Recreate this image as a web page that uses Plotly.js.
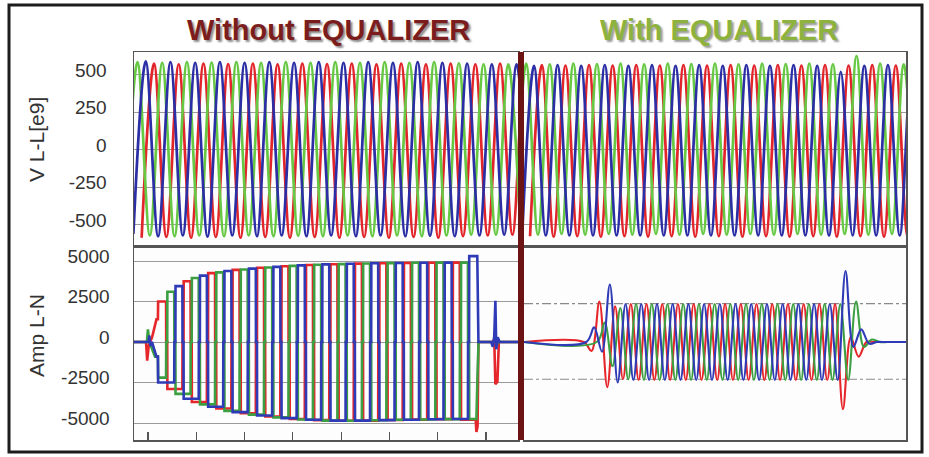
<!DOCTYPE html>
<html><head><meta charset="utf-8">
<script src="https://cdn.plot.ly/plotly-3.0.1.min.js"></script>
<style>html,body{margin:0;padding:0;background:#fff;}#chart{width:929px;height:457px;}</style>
</head><body><div id="chart"></div>
<script>
// ================= DATA =================
const panelTitles = ["Without EQUALIZER", "With EQUALIZER"];
const yTitles = ["V L-L[e9]", "Amp L-N"];
const voltTicks = [-500, -250, 0, 250, 500];
const voltTickText = ["-500", "-250", "0", "250", "500"];
const ampTicks = [-5000, -2500, 0, 2500, 5000];
const ampTickText = ["-5000", "-2500", "0", "2500", "5000"];
const timeWindowMs = [0, 265];

// ---- Voltage without equalizer: successive extremes (V), one per half-cycle ----
const vLeftHalfCycleMs = 8.53;
const vLeftFirstExtremeMs = {green: -6.13, blue: -0.43, red: 5.27};
const vLeftGreen = [-575, 585, -570, 580, -575, 585, -570, 582, -575, 585, -570, 580, -575, 585, -572, 580, -575, 585, -570, 580, -575, 585, -570, 580, -575, 585, -570, 578, -565, 570, -565, 570, -565];
const vLeftBlue  = [-560, 590, -575, 585, -570, 580, -578, 585, -570, 580, -575, 585, -570, 580, -575, 585, -570, 580, -575, 585, -570, 580, -575, 585, -572, 580, -575, 575, -570, 570, -565, 570, -565];
const vLeftRed   = [-585, 575, -580, 570, -585, 575, -580, 572, -585, 575, -580, 570, -585, 575, -580, 572, -585, 575, -580, 570, -585, 575, -580, 570, -585, 575, -575, 570, -570, 575, -565, 570, -565];

// ---- Voltage with equalizer ----
const vRightHalfCycleMs = 8.185;
const vRightFirstExtremeMs = {green: -6.69, blue: -1.25, red: 4.2};
const vRightGreen = [-560, 575, -565, 570, -560, 575, -565, 572, -560, 575, -565, 570, -560, 575, -565, 572, -560, 575, -565, 570, -560, 575, -565, 572, -560, 575, -565, 570, -560, 625, -565, 575, -560, 570, -565];
const vRightBlue  = [-565, 560, -570, 565, -570, 560, -570, 565, -570, 560, -570, 565, -570, 560, -570, 565, -570, 560, -570, 565, -570, 560, -570, 565, -570, 560, -570, 520, -570, 560, -570, 565, -570, 560, -570];
const vRightRed   = [-575, 565, -578, 562, -575, 565, -578, 562, -575, 565, -578, 562, -575, 565, -578, 562, -575, 565, -578, 562, -575, 565, -578, 562, -575, 565, -578, 562, -575, 565, -578, 562, -575, 565, -578];

// ---- Current without equalizer ----
// a commutation every iLeftStepMs; the positive phase goes red -> green -> blue in turn.
// Each array: the successive flat levels (A) of that phase, in time order.
const iLeftStartMs = 16.5;
const iLeftStepMs = 5.63;
const iLeftDwellMs = 0.8;
const iLeftSlot = {red: 0, green: 1, blue: 2};
const iLeftStopMs = {red: 235.8, green: 236.3, blue: 236.9};
const iLeftRed   = [2500, -2900, 3750, -3700, 4250, -4100, 4450, -4400, 4580, -4600, 4680, -4750, 4750, -4820, 4800, -4860, 4840, -4850, 4860, -4810, 4880, -4790, 4890, -4760, 4900, -4800];
const iLeftGreen = [-2200, 3100, -3200, 3950, -3850, 4300, -4250, 4480, -4480, 4600, -4650, 4700, -4780, 4770, -4850, 4810, -4860, 4850, -4830, 4870, -4800, 4890, -4780, 4900, -4760, 4900, -4750];
const iLeftBlue  = [-2500, 3450, -3500, 4100, -4000, 4380, -4330, 4530, -4540, 4640, -4700, 4730, -4800, 4790, -4850, 4830, -4850, 4860, -4820, 4880, -4800, 4890, -4770, 4900, -4750, 5300];
// events before start / after stop: [time ms, A]
const iLeftRedHead   = [[0, 0], [8.3, 0], [9.1, -1150], [10.2, -200], [12.5, 300], [15.5, 1400]];
const iLeftGreenHead = [[0, 0], [8.9, 0], [9.6, 780], [10.6, 0], [14.5, -900]];
const iLeftBlueHead  = [[0, 0], [10, 0], [10.6, 400], [11.4, -250], [12.4, 0], [15.5, -900]];
const iLeftRedTail   = [[236.3, -5550], [237.1, -5200], [237.7, 0], [247.5, 0], [248.6, 150], [249.4, -2600], [250.8, -2450], [251.8, 0], [265, 0]];
const iLeftGreenTail = [[237.0, -2200], [237.8, 0], [248, 0], [249.2, 250], [250.4, -200], [251.5, 0], [265, 0]];
const iLeftBlueTail  = [[237.7, 0], [246.5, 0], [247.6, -300], [248.6, 350], [249.4, 2540], [250.0, -450], [251.0, 300], [252.3, 0], [265, 0]];

// ---- Current with equalizer: successive extremes (A), one per half-cycle ----
const iRightHalfCycleMs = 5.45;
const iRightFirstExtremeMs = {red: 41.4, green: 50.5, blue: 43.2};
const iRightRed   = [0, -550, 2500, -2790, 2200, -2300, 2350, -2350, 2350, -2350, 2350, -2350, 2350, -2350, 2350, -2350, 2350, -2350, 2350, -2350, 2350, -2350, 2350, -2350, 2350, -2350, 2350, -2350, 2350, -2350, 2350, -2350, 2350, -4150, 300, -900, 0, 0, 0, 0, 0, 0];
const iRightGreen = [0, 1200, -1500, 2100, -2300, 2350, -2350, 2350, -2350, 2350, -2350, 2350, -2350, 2350, -2350, 2350, -2350, 2350, -2350, 2350, -2350, 2350, -2350, 2350, -2350, 2350, -2350, 2350, -2350, 2350, -2350, 2350, -2350, 2500, -300, 150, 0, 0, 0, 0];
const iRightBlue  = [0, 900, -600, 3550, -2500, 2350, -2350, 2350, -2350, 2350, -2350, 2350, -2350, 2350, -2350, 2350, -2350, 2350, -2350, 2350, -2350, 2350, -2350, 2350, -2350, 2350, -2350, 2350, -2350, 2350, -2350, 2350, -2350, 4380, -300, 780, -100, 0, 0, 0, 0, 0];
const iRightLimits = [2370, -2300];

// ================= STYLE =================
const W = 929, H = 457;
const COL = {red: '#e1252b', green: '#66c843', blue: '#2b2ea4'};
const COLI = {red: '#e5262b', green: '#3c9f42', blue: '#2f3bb6'};
const px = v => v / W, py = v => 1 - v / H;

function extremaTrace(vals, t0, dt, color, xa, ya, width, lead) {
  const x = vals.map((_, i) => t0 + i * dt);
  const y = vals.slice();
  if (lead) { x.unshift(timeWindowMs[0]); y.unshift(0); }
  return {type: 'scatter', mode: 'lines', x: x, y: y, xaxis: xa, yaxis: ya,
    line: {color: color, width: width, shape: 'spline', smoothing: 1}, hoverinfo: 'skip', showlegend: false};
}

function squareTrace(levels, slot, stop, head, tail, color) {
  const x = [], y = [];
  head.forEach(p => { x.push(p[0]); y.push(p[1]); });
  x.push(iLeftStartMs); y.push(y[y.length - 1]);
  x.push(iLeftStartMs + 0.15); y.push(levels[0]);
  let li = 0;
  for (let k = 1; ; k++) {
    const tc = iLeftStartMs + k * iLeftStepMs;
    if (tc >= stop || li + 1 >= levels.length) break;
    const r = k % 3;
    if (r === slot || r === (slot + 1) % 3) {
      x.push(tc); y.push(levels[li]);
      x.push(tc + 0.1); y.push(0);
      x.push(tc + iLeftDwellMs); y.push(0);
      x.push(tc + iLeftDwellMs + 0.1); y.push(levels[li + 1]);
      li++;
    }
  }
  x.push(stop); y.push(levels[li]);
  tail.forEach(p => { x.push(p[0]); y.push(p[1]); });
  return {type: 'scatter', mode: 'lines', x: x, y: y, xaxis: 'x3', yaxis: 'y3',
    line: {color: color, width: 2.6}, hoverinfo: 'skip', showlegend: false};
}

const traces = [
  extremaTrace(vLeftRed, vLeftFirstExtremeMs.red, vLeftHalfCycleMs, COL.red, 'x', 'y', 2.7),
  extremaTrace(vLeftGreen, vLeftFirstExtremeMs.green, vLeftHalfCycleMs, COL.green, 'x', 'y', 2.7),
  extremaTrace(vLeftBlue, vLeftFirstExtremeMs.blue, vLeftHalfCycleMs, COL.blue, 'x', 'y', 2.7),
  extremaTrace(vRightRed, vRightFirstExtremeMs.red, vRightHalfCycleMs, COL.red, 'x2', 'y2', 2.7),
  extremaTrace(vRightGreen, vRightFirstExtremeMs.green, vRightHalfCycleMs, COL.green, 'x2', 'y2', 2.7),
  extremaTrace(vRightBlue, vRightFirstExtremeMs.blue, vRightHalfCycleMs, COL.blue, 'x2', 'y2', 2.7),
  squareTrace(iLeftRed, iLeftSlot.red, iLeftStopMs.red, iLeftRedHead, iLeftRedTail, COLI.red),
  squareTrace(iLeftGreen, iLeftSlot.green, iLeftStopMs.green, iLeftGreenHead, iLeftGreenTail, COLI.green),
  squareTrace(iLeftBlue, iLeftSlot.blue, iLeftStopMs.blue, iLeftBlueHead, iLeftBlueTail, COLI.blue),
  extremaTrace(iRightRed, iRightFirstExtremeMs.red, iRightHalfCycleMs, COLI.red, 'x4', 'y4', 2.1, true),
  extremaTrace(iRightGreen, iRightFirstExtremeMs.green, iRightHalfCycleMs, COLI.green, 'x4', 'y4', 2.1, true),
  extremaTrace(iRightBlue, iRightFirstExtremeMs.blue, iRightHalfCycleMs, COLI.blue, 'x4', 'y4', 2.1, true)
];

const tickFont = {family: 'Liberation Sans, Arial, sans-serif', size: 19, color: '#333'};
const xBase = {range: timeWindowMs, showgrid: false, zeroline: false, showticklabels: false, ticks: '',
  showline: true, mirror: true, linecolor: '#555', linewidth: 1.5, fixedrange: true};
const yBase = {showgrid: true, gridcolor: '#9b9b9b', gridwidth: 1, zeroline: false, showline: true, mirror: true,
  linecolor: '#555', linewidth: 1.5, ticks: '', tickfont: tickFont, ticklabelstandoff: 22, ticklabelshift: -5, fixedrange: true};

const xL = [px(134), px(518)], xR = [px(524), px(906)];
const yT = [py(246), py(52)], yB = [py(440), py(246)];

const layout = {
  width: W, height: H, margin: {l: 0, r: 0, t: 0, b: 0},
  paper_bgcolor: '#ffffff', plot_bgcolor: '#fdfdfd', showlegend: false,
  xaxis: Object.assign({}, xBase, {domain: xL, anchor: 'y'}),
  yaxis: Object.assign({}, yBase, {domain: yT, anchor: 'x', range: [-640, 653], tickvals: voltTicks, ticktext: voltTickText}),
  xaxis2: Object.assign({}, xBase, {domain: xR, anchor: 'y2'}),
  yaxis2: Object.assign({}, yBase, {domain: yT, anchor: 'x2', range: [-640, 653], tickvals: voltTicks, showticklabels: false}),
  xaxis3: Object.assign({}, xBase, {domain: xL, anchor: 'y3', ticks: 'inside', tick0: 9.66, dtick: 33.33, ticklen: 8, tickcolor: '#555', tickwidth: 1.2}),
  yaxis3: Object.assign({}, yBase, {domain: yB, anchor: 'x3', range: [-6049, 5926], tickvals: ampTicks, ticktext: ampTickText, ticklabelstandoff: 19}),
  xaxis4: Object.assign({}, xBase, {domain: xR, anchor: 'y4'}),
  yaxis4: Object.assign({}, yBase, {domain: yB, anchor: 'x4', range: [-6049, 5926], showgrid: false, showticklabels: false}),
  shapes: [
    {type: 'line', xref: 'x4', yref: 'y4', x0: timeWindowMs[0], x1: timeWindowMs[1], y0: iRightLimits[0], y1: iRightLimits[0], line: {color: '#8a8a8a', width: 1.2, dash: 'dashdot'}, layer: 'below'},
    {type: 'line', xref: 'x4', yref: 'y4', x0: timeWindowMs[0], x1: timeWindowMs[1], y0: iRightLimits[1], y1: iRightLimits[1], line: {color: '#8a8a8a', width: 1.2, dash: 'dashdot'}, layer: 'below'},
    {type: 'rect', xref: 'paper', yref: 'paper', x0: px(518), x1: px(524), y0: py(440), y1: py(52), fillcolor: '#6c1414', line: {width: 0}},
    {type: 'rect', xref: 'paper', yref: 'paper', x0: px(9), x1: px(922), y0: py(452), y1: py(5), line: {color: '#1c1c1c', width: 3}}
  ],
  annotations: [
    {text: '<b>' + panelTitles[0] + '</b>', xref: 'paper', yref: 'paper', x: px(328), y: py(30), showarrow: false, xanchor: 'center', yanchor: 'middle',
      font: {family: 'Liberation Sans, Arial, sans-serif', size: 29, color: '#7b1d1d', shadow: '2px 2px 2px rgba(0,0,0,0.45)'}},
    {text: '<b>' + panelTitles[1] + '</b>', xref: 'paper', yref: 'paper', x: px(719), y: py(30), showarrow: false, xanchor: 'center', yanchor: 'middle',
      font: {family: 'Liberation Sans, Arial, sans-serif', size: 29, color: '#8db23e', shadow: '2px 2px 2px rgba(0,0,0,0.4)'}},
    {text: yTitles[0], xref: 'paper', yref: 'paper', x: px(36), y: py(140), showarrow: false, textangle: -90, xanchor: 'center', yanchor: 'middle',
      font: {family: 'Liberation Sans, Arial, sans-serif', size: 21, color: '#333'}},
    {text: yTitles[1], xref: 'paper', yref: 'paper', x: px(36), y: py(336), showarrow: false, textangle: -90, xanchor: 'center', yanchor: 'middle',
      font: {family: 'Liberation Sans, Arial, sans-serif', size: 21, color: '#333'}}
  ]
};

Plotly.newPlot('chart', traces, layout, {staticPlot: true, displayModeBar: false});
</script></body></html>
